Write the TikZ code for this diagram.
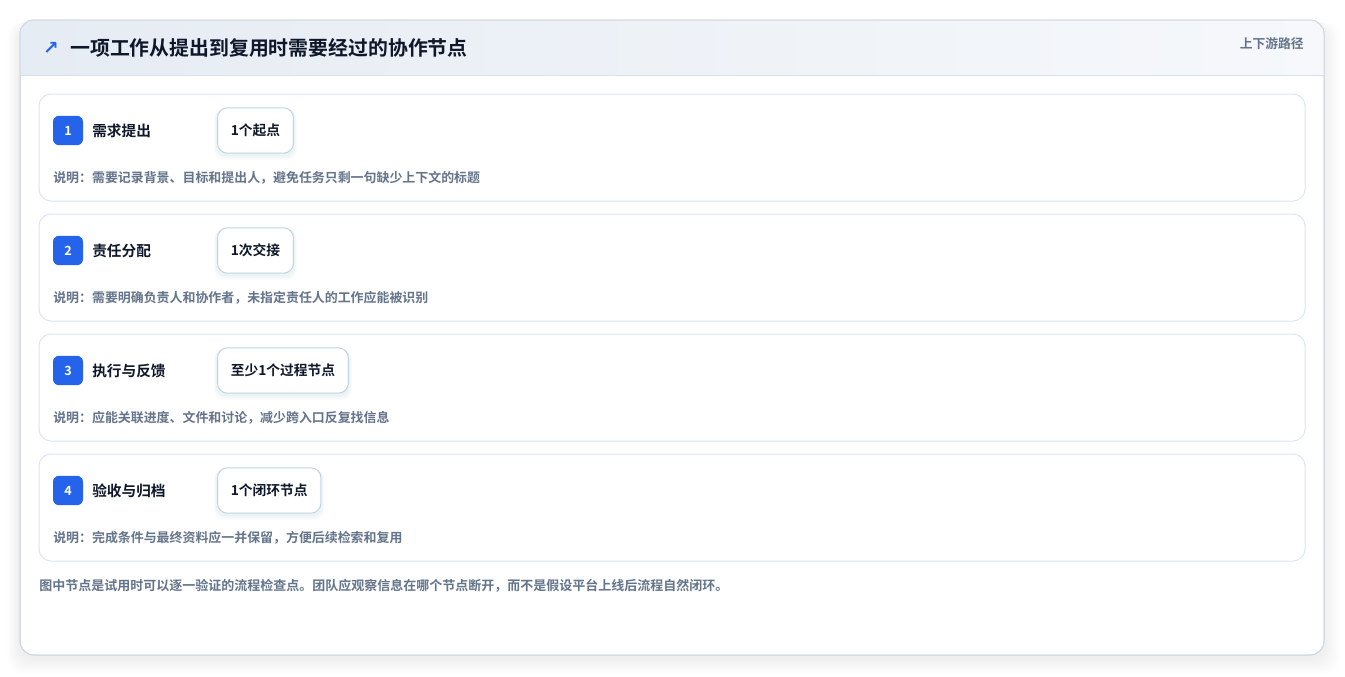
\documentclass[tikz,border=0pt]{standalone}
\usepackage{fontspec}
\setmainfont{Noto Sans CJK SC}
\newfontfamily\cjkb{Noto Sans CJK SC Bold}
\newfontfamily\symf{DejaVu Sans}
\usetikzlibrary{positioning}
\definecolor{cardborder}{HTML}{D3D9E2}
\definecolor{rowborder}{HTML}{DCE6F2}
\definecolor{pillborder}{HTML}{BFD3EA}
\definecolor{badgeblue}{HTML}{2563EB}
\definecolor{titletext}{HTML}{0F172A}
\definecolor{graytext}{HTML}{64748B}
\definecolor{headl}{HTML}{E6ECF4}
\definecolor{headr}{HTML}{F6F8FB}
\definecolor{headline}{HTML}{D6E1EE}
\definecolor{shadowc}{HTML}{1E293B}
\definecolor{pillshadow}{HTML}{3B5A8C}
\tikzset{
  px/.style={x=0.75pt,y=-0.75pt},
  rowbox/.style={draw=rowborder,line width=0.75pt,rounded corners=9pt,fill=white},
  badge/.style={fill=badgeblue,rounded corners=4.5pt,minimum width=22.5pt,minimum height=22pt,inner sep=0pt,text=white,font=\cjkb\fontsize{9.5}{10}\selectfont},
  steplabel/.style={anchor=west,inner sep=0pt,text=titletext,font=\cjkb\fontsize{11}{12}\selectfont},
  pill/.style={draw=pillborder,line width=0.75pt,rounded corners=7.5pt,fill=white,minimum height=34pt,inner xsep=10pt,anchor=west,text=titletext,font=\cjkb\fontsize{10.3}{12}\selectfont},
  desc/.style={anchor=west,inner sep=0pt,text=graytext,font=\cjkb\fontsize{9.7}{11}\selectfont},
}
\begin{document}
\begin{tikzpicture}[px]
\useasboundingbox (0,0) rectangle (1345,676);
\fill[white] (0,0) rectangle (1345,676);
% outer card shadow
\foreach \k in {1,...,16}{
  \fill[shadowc,opacity=0.004,rounded corners=12pt] (20-\k*0.8,20-\k*0.3+6) rectangle (1324+\k,655+\k+3);
}
\path[fill=white,draw=cardborder,line width=0.75pt,rounded corners=10.5pt] (20,20) rectangle (1324,655);
% header band
\begin{scope}
\clip[rounded corners=10.5pt] (20,20) rectangle (1324,655);
\shade[left color=headl,right color=headr] (20,20) rectangle (1324,75);
\end{scope}
\draw[headline,line width=0.75pt] (20,75) -- (1324,75);
\draw[cardborder,line width=0.75pt,rounded corners=10.5pt] (20,20) rectangle (1324,655);
\node[anchor=center,inner sep=0pt,text=badgeblue,font=\symf\bfseries\fontsize{14}{15}\selectfont] (arrow) at (51,48) {↗};
\node[anchor=west,inner sep=0pt,text=titletext,font=\cjkb\fontsize{14.9}{16}\selectfont] (title) at (70,48) {一项工作从提出到复用时需要经过的协作节点};
\node[anchor=east,inner sep=0pt,text=graytext,font=\cjkb\fontsize{9.6}{11}\selectfont] (tag) at (1304,44) {上下游路径};
% rows
\foreach \i/\y/\lab/\pl/\ds in {
 1/94/需求提出/1个起点/说明：需要记录背景、目标和提出人，避免任务只剩一句缺少上下文的标题,
 2/214/责任分配/1次交接/说明：需要明确负责人和协作者，未指定责任人的工作应能被识别,
 3/334/执行与反馈/至少1个过程节点/说明：应能关联进度、文件和讨论，减少跨入口反复找信息,
 4/454/验收与归档/1个闭环节点/说明：完成条件与最终资料应一并保留，方便后续检索和复用}{
  \path[rowbox] (39,\y) rectangle (1305,\y+107);
  \node[badge] (b\i) at (68,\y+36.5) {\i};
  \node[steplabel] (l\i) at (92,\y+37) {\lab};
  \node[pill,opacity=0] (q\i) at (217,\y+36.5) {\pl};
  \foreach \s in {1,...,6}{
    \fill[pillshadow,opacity=0.01,rounded corners=8pt] ([xshift=-\s*0.4pt,yshift=-1.5pt-\s*0.6pt]q\i.south west) rectangle ([xshift=\s*0.4pt,yshift=-\s*0.2pt]q\i.north east);
  }
  \node[pill] (p\i) at (217,\y+36.5) {\pl};
  \node[desc] (d\i) at (53,\y+84) {\ds};
}
\node[anchor=west,inner sep=0pt,text=graytext,font=\cjkb\fontsize{9.75}{11}\selectfont] (foot) at (39,586) {图中节点是试用时可以逐一验证的流程检查点。团队应观察信息在哪个节点断开，而不是假设平台上线后流程自然闭环。};
\end{tikzpicture}
\end{document}
